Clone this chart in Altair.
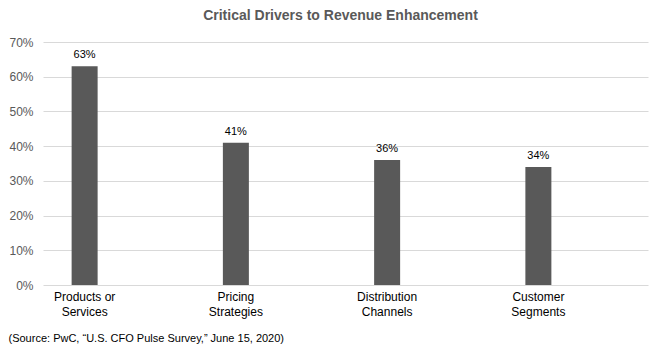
import altair as alt
import pandas as pd

categories = ["Products or Services", "Pricing Strategies", "Distribution Channels", "Customer Segments"]
values = [0.63, 0.41, 0.36, 0.34]
y_ticks = [0, 0.1, 0.2, 0.3, 0.4, 0.5, 0.6, 0.7]

df = pd.DataFrame({"cat": categories, "val": values})

FONT = "Liberation Sans"
SHIFT = -34

x = alt.X(
    "cat:N",
    sort=categories,
    scale=alt.Scale(paddingInner=0, paddingOuter=0),
    axis=alt.Axis(
        title="(Source: PwC, \u201cU.S. CFO  Pulse Survey,\u201d June 15, 2020)",
        titleX=-35,
        titleY=56,
        titleAlign="left",
        titleAnchor="start",
        titleBaseline="alphabetic",
        titleFont=FONT,
        titleFontSize=11,
        titleFontWeight="normal",
        titleColor="#000000",
        labelAngle=0,
        labelOffset=SHIFT,
        labelExpr="[slice(datum.label, 0, lastindexof(datum.label, ' ')), slice(datum.label, lastindexof(datum.label, ' ') + 1)]",
        labelFont=FONT,
        labelFontSize=12,
        labelColor="#000000",
        labelLineHeight=15,
        labelPadding=6,
        domain=False,
        ticks=False,
        grid=False,
    ),
)

y = alt.Y(
    "val:Q",
    scale=alt.Scale(domain=[0, 0.7], nice=False),
    axis=alt.Axis(
        title=None,
        values=y_ticks,
        format=".0%",
        labelFont=FONT,
        labelFontSize=12,
        labelColor="#595959",
        labelPadding=10,
        labelOverlap=False,
        domain=False,
        ticks=False,
        grid=True,
        gridColor="#d9d9d9",
        gridWidth=1,
    ),
)

base = alt.Chart(df).encode(x=x, y=y)

bars = base.mark_bar(size=26, color="#595959", xOffset=SHIFT)

labels = base.mark_text(
    dy=-8, xOffset=SHIFT, font=FONT, fontSize=11, color="#000000", baseline="alphabetic"
).encode(text=alt.Text("val:Q", format=".0%"))

chart = (
    alt.layer(bars, labels)
    .properties(
        width=605,
        height=243,
        padding={"left": 43, "top": 42, "right": 14, "bottom": 66},
        autosize=alt.AutoSizeParams(type="none"),
        background="white",
        title=alt.TitleParams(
            "Critical Drivers to Revenue Enhancement",
            font=FONT,
            fontSize=14,
            fontWeight="bold",
            color="#595959",
            anchor="middle",
            dx=-5,
            offset=13,
        ),
    )
    .configure_view(stroke=None)
)

chart.save("out.html", embed_options={"renderer": "svg", "actions": False})
